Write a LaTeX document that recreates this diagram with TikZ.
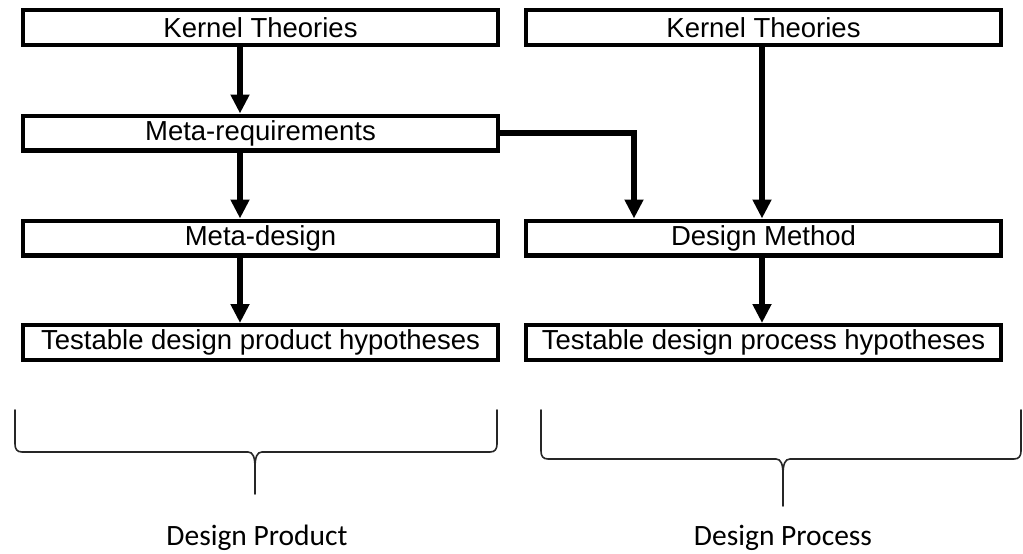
\documentclass[tikz,border=0pt]{standalone}
\usepackage{fontspec}
\setmainfont{Liberation Sans}
\newfontfamily\labelfont{Carlito}
\usetikzlibrary{arrows.meta}

\begin{document}
\begin{tikzpicture}[x=1pt,y=-1pt,
  stage/.style={draw=black, line width=4.2pt, fill=white, inner sep=0pt,
    minimum width=474.8pt, minimum height=34.8pt,
    font=\fontsize{27.5}{29}\selectfont},
  flow/.style={line width=5.5pt, -{Triangle[width=18pt,length=19pt]}},
  brace/.style={line width=1.6pt, draw=black!85, line cap=round},
  caption/.style={font=\labelfont\fontsize{29.5}{31}\selectfont, inner sep=0pt}]

\useasboundingbox (0,0) rectangle (1023,554);

% design product column
\node[stage] (kt1) at (260.5,27.5)  {Kernel Theories};
\node[stage] (mr)  at (260.5,133)   {Meta-requirements};
\node[stage] (md)  at (260.5,238)   {Meta-design};
\node[stage] (tp1) at (260.5,342.5) {Testable design product hypotheses};

% design process column
\node[stage] (kt2) at (763.5,27.5)  {Kernel Theories};
\node[stage] (dm)  at (763.5,238)   {Design Method};
\node[stage] (tp2) at (763.5,342.5) {Testable design process hypotheses};

% connectors
\draw[flow] (240,0 |- kt1.south) -- (240,0 |- mr.north);
\draw[flow] (240,0 |- mr.south) -- (240,0 |- md.north);
\draw[flow] (240,0 |- md.south) -- (240,0 |- tp1.north);
\coordinate (bend) at (634,133);
\draw[flow] (mr.east) -- (bend) -- (bend |- dm.north);
\draw[flow] (762,0 |- kt2.south) -- (762,0 |- dm.north);
\draw[flow] (762,0 |- dm.south) -- (762,0 |- tp2.north);

% braces
\draw[brace] (15,410) -- (15,444) .. controls (15,449) and (17,452) .. (22,452)
  -- (248,452) .. controls (253,452) and (255,457) .. (255,468) -- (255,494);
\draw[brace] (497,410) -- (497,444) .. controls (497,449) and (495,452) .. (490,452)
  -- (262,452) .. controls (257,452) and (255,457) .. (255,468);
\draw[brace] (541,410) -- (541,451) .. controls (541,456) and (543,459) .. (548,459)
  -- (776,459) .. controls (781,459) and (783,464) .. (783,475) -- (783,506);
\draw[brace] (1021,410) -- (1021,451) .. controls (1021,456) and (1019,459) .. (1014,459)
  -- (790,459) .. controls (785,459) and (783,464) .. (783,475);

\node[caption] (cprod) at (257,538) {Design Product};
\node[caption] (cproc) at (783,538) {Design Process};
\end{tikzpicture}
\end{document}
